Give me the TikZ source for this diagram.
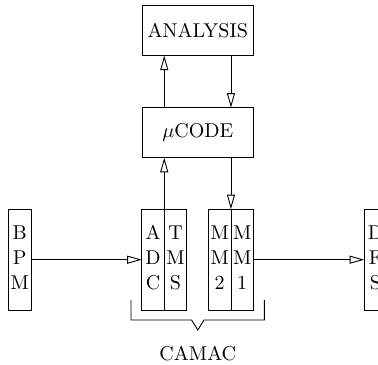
\documentclass[tikz,border=0pt]{standalone}
\usetikzlibrary{arrows.meta}
\newcommand{\colstack}[3]{\raisebox{1.5pt}{\renewcommand{\arraystretch}{1.04}\begin{tabular}{@{}c@{}}#1\\#2\\#3\end{tabular}}}
\begin{document}
\begin{tikzpicture}[x=0.5pt,y=-0.5pt,line width=0.45pt,
  box/.style={draw,rectangle,inner sep=0pt,outer sep=0pt,font=\fontsize{10}{12}\selectfont},
  col/.style={box,minimum width=11.25pt,minimum height=50.5pt},
  big/.style={box,minimum width=55.5pt,minimum height=25pt},
  arr/.style={-{Triangle[open,length=7.3pt,width=4pt]}}]
\useasboundingbox (0,0) rectangle (378,364);
\clip (0,0) rectangle (378,364);
\node[big] (ana) at (197.8,30.5) {ANALYSIS};
\node[big] (mu) at (197.8,132.7) {$\mu$CODE};
\node[col] (bpm) at (19.7,259.7) {\colstack{B}{P}{M}};
\node[col] (adc) at (153.0,259.7) {\colstack{A}{D}{C}};
\node[col] (tms) at (175.5,259.7) {\colstack{T}{M}{S}};
\node[col] (mm2) at (219.7,259.7) {\colstack{M}{M}{2}};
\node[col] (mm1) at (242.2,259.7) {\colstack{M}{M}{1}};
\node[col] (dfs) at (375.5,259.7) {\colstack{D}{F}{S}};
\coordinate (c1) at (164.25,0);
\coordinate (c2) at (230.95,0);
\draw[arr] (c1 |- adc.north) -- (c1 |- mu.south);
\draw[arr] (c2 |- mu.south) -- (c2 |- mm2.north);
\draw[arr] (c1 |- mu.north) -- (c1 |- ana.south);
\draw[arr] (c2 |- ana.south) -- (c2 |- mu.north);
\draw[arr] (bpm.east) -- (adc.west);
\draw[arr] (mm1.east) -- (dfs.west);
\coordinate (bl) at (131,300);
\coordinate (br) at (264.3,300);
\coordinate (tip) at (197.8,330);
\draw (bl) -- (131,320) -- (191.6,320) -- (tip) -- (204,320) -- (264.3,320) -- (br);
\node[font=\fontsize{10}{12}\selectfont] (camac) at (197.8,354) {CAMAC};
\end{tikzpicture}
\end{document}
